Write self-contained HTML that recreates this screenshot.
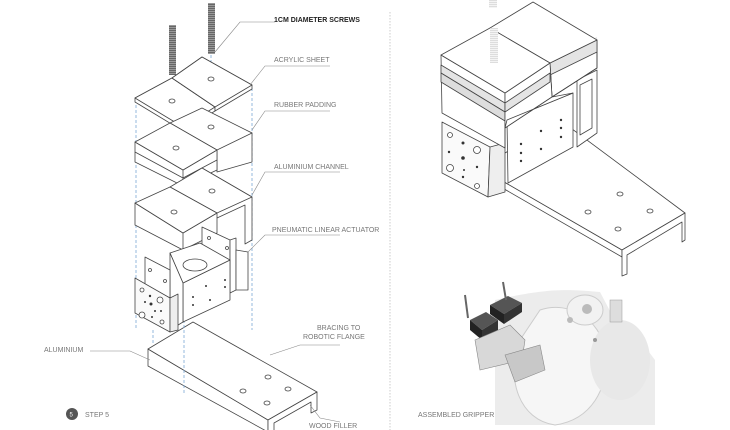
<!DOCTYPE html>
<html><head><meta charset="utf-8"><style>
body{margin:0;background:#fff;width:730px;height:430px;overflow:hidden}
svg{display:block}
text{font-family:"Liberation Sans",sans-serif;font-size:7px;fill:#777}
</style></head><body>
<svg width="730" height="430" viewBox="0 0 730 430" xmlns="http://www.w3.org/2000/svg">
<defs>
<pattern id="thr" width="4" height="2" patternUnits="userSpaceOnUse"><rect width="4" height="2" fill="#666"/><rect y="1" width="4" height="1" fill="#999"/></pattern>
<pattern id="thr2" width="4" height="2" patternUnits="userSpaceOnUse"><rect width="4" height="2" fill="#ddd"/><rect y="1" width="4" height="1" fill="#f4f4f4"/></pattern>
</defs>
<g stroke="#444" stroke-width="0.8" fill="#fff" stroke-linejoin="round">
<!-- left base plate (drawn first) -->
<polygon points="148,349 148,366 268,432 268,420"/>
<polygon points="148,349 193,322 317,392 268,420"/>
<polygon points="268,420 317,392 317,410 311,413 311,402 274,423 274,432 268,432"/>
<g fill="#fff"><ellipse cx="268" cy="377" rx="3" ry="2"/><ellipse cx="243" cy="391" rx="3" ry="2"/><ellipse cx="288" cy="389" rx="3" ry="2"/><ellipse cx="267" cy="403" rx="3" ry="2"/></g>
<!-- dashed guides -->
<g stroke="#7aa7d6" stroke-dasharray="3,2" fill="none">
<line x1="136" y1="100" x2="136" y2="330"/><line x1="184" y1="130" x2="184" y2="395"/>
<line x1="252" y1="88" x2="252" y2="330"/><line x1="172" y1="80" x2="172" y2="108"/><line x1="211" y1="55" x2="211" y2="85"/>
<line x1="153" y1="330" x2="153" y2="345"/>
</g>
<!-- screws -->
<rect x="169" y="25" width="7" height="50" fill="url(#thr)" stroke="none"/>
<rect x="208" y="3" width="7" height="51" fill="url(#thr)" stroke="none"/>
<!-- acrylic sheets -->
<polygon points="135,98 172,78 215,107 215,111 183,131 135,102"/>
<polygon points="135,98 172,78 215,107 183,127"/>
<polygon points="172,78 202,57 252,85 252,89 215,111 215,107"/>
<polygon points="172,78 202,57 252,85 215,107"/>
<ellipse cx="172" cy="101" rx="3" ry="2"/><ellipse cx="211" cy="79" rx="3" ry="2"/>
<!-- rubber padding -->
<polygon points="202,110 252,133 252,162 217,172 217,150"/>
<polygon points="170,123 202,108 252,133 217,150"/>
<polygon points="135,142 135,162 183,186 217,170 217,150 183,170"/>
<polygon points="135,142 170,123 217,150 183,170"/>
<line x1="135" y1="152" x2="183" y2="178"/><line x1="183" y1="178" x2="217" y2="160"/><line x1="183" y1="170" x2="183" y2="186"/>
<ellipse cx="176" cy="148" rx="3" ry="2"/><ellipse cx="211" cy="127" rx="3" ry="2"/>
<!-- aluminium channel -->
<polygon points="202,168 252,197 252,240 245,244 245,205 217,218"/>
<polygon points="170,187 202,168 252,197 217,213"/>
<polygon points="135,203 135,225 183,250 217,233 217,213 183,233"/>
<polygon points="135,203 170,187 217,213 183,233"/>
<line x1="183" y1="233" x2="183" y2="250"/>
<ellipse cx="174" cy="212" rx="3" ry="2"/><ellipse cx="212" cy="191" rx="3" ry="2"/>
<!-- actuator back plate -->
<polygon points="202,227 230,240 230,293 202,280"/>
<polygon points="230,240 236,238 236,290 230,293"/>
<polygon points="236,250 248,252 248,290 236,290"/>
<circle cx="209" cy="238" r="1.5"/><circle cx="227" cy="248" r="1.5"/>
<!-- body -->
<polygon points="183,283 230,260 230,300 183,322"/>
<polygon points="170,253 200,243 230,260 183,283"/>
<ellipse cx="195" cy="265" rx="12" ry="6"/>
<polygon points="170,253 183,283 183,322 170,330"/>
<g fill="#333" stroke="none"><circle cx="206" cy="286" r="1"/><circle cx="225" cy="280" r="1"/><circle cx="225" cy="287" r="1"/><circle cx="193" cy="297" r="1"/><circle cx="193" cy="305" r="1"/><circle cx="210" cy="300" r="1"/></g>
<!-- front plate -->
<polygon points="145,257 170,270 170,298 145,285"/>
<circle cx="150" cy="270" r="1.5"/><circle cx="165" cy="281" r="1.5"/>
<polygon points="135,278 170,298 170,332 135,313" fill="#fafafa"/>
<polygon points="170,298 178,294 178,330 170,332" fill="#eee"/>
<g fill="#fff"><circle cx="142" cy="290" r="2"/><circle cx="160" cy="300" r="3"/><circle cx="142" cy="315" r="3"/><circle cx="162" cy="322" r="2"/></g>
<g fill="#333" stroke="none"><circle cx="150" cy="296" r="1.2"/><circle cx="145" cy="302" r="1"/><circle cx="151" cy="304" r="1.5"/><circle cx="155" cy="311" r="1"/><circle cx="152" cy="317" r="1"/><circle cx="161" cy="311" r="1"/></g>
</g>
<!-- leader lines -->
<g stroke="#888" stroke-width="0.6" fill="none">
<polyline points="215,52 240,22 275,22"/><polyline points="250,85 265,66 330,66"/>
<polyline points="252,130 265,111 330,111"/><polyline points="252,195 265,172 340,172"/>
<polyline points="248,252 265,235 340,235"/><polyline points="270,355 300,345 340,345"/>
<polyline points="90,351 130,351 150,360"/><polyline points="310,405 320,418 340,422"/>
</g>
<text x="274" y="22" style="fill:#222;font-weight:bold">1CM DIAMETER SCREWS</text>
<text x="274" y="62">ACRYLIC SHEET</text>
<text x="274" y="107">RUBBER PADDING</text>
<text x="274" y="169">ALUMINIUM CHANNEL</text>
<text x="272" y="232">PNEUMATIC LINEAR ACTUATOR</text>
<text x="317" y="330">BRACING TO</text>
<text x="303" y="339">ROBOTIC FLANGE</text>
<text x="44" y="352">ALUMINIUM</text>
<text x="309" y="428">WOOD FILLER</text>
<circle cx="72" cy="414" r="6" fill="#555"/>
<text x="69.5" y="416.5" style="fill:#fff;font-size:6px">5</text>
<text x="85" y="417">STEP 5</text>
<line x1="390" y1="12" x2="390" y2="430" stroke="#aaa" stroke-width="0.6" stroke-dasharray="1.5,1.5"/>
<!-- right assembled drawing -->
<g stroke="#444" stroke-width="0.8" fill="#fff" stroke-linejoin="round">
<!-- base plate -->
<polygon points="480,168 480,175 622,257 622,250"/>
<polygon points="480,168 560,120 685,213 622,250"/>
<polygon points="622,250 685,213 685,240 682,242 682,222 627,255 627,274 622,276"/>
<g fill="#fff"><ellipse cx="620" cy="194" rx="3" ry="2"/><ellipse cx="588" cy="212" rx="3" ry="2"/><ellipse cx="650" cy="211" rx="3" ry="2"/><ellipse cx="618" cy="229" rx="3" ry="2"/></g>
<!-- back plate -->
<polygon points="577,80 597,70 597,133 577,147"/>
<polygon points="580,85 592,79 592,128 580,135"/>
<!-- actuator face -->
<polygon points="507,120 573,93 573,147 508,183"/>
<g fill="#333" stroke="none"><circle cx="541" cy="131" r="1.2"/><circle cx="561" cy="120" r="1.2"/><circle cx="561" cy="128" r="1.2"/><circle cx="561" cy="137" r="1.2"/><circle cx="521" cy="144" r="1.2"/><circle cx="521" cy="153" r="1.2"/><circle cx="521" cy="161" r="1.2"/><circle cx="541" cy="149" r="1.2"/></g>
<!-- front plate -->
<polygon points="442,122 490,147 488,197 442,173" fill="#fafafa"/>
<polygon points="490,147 505,143 505,192 488,197" fill="#eee"/>
<g fill="#fff"><circle cx="450" cy="135" r="2.5"/><circle cx="477" cy="150" r="3.5"/><circle cx="450" cy="168" r="3.5"/><circle cx="477" cy="186" r="2.5"/></g>
<g fill="#333" stroke="none"><circle cx="463" cy="143" r="1.5"/><circle cx="449" cy="152" r="1.2"/><circle cx="463" cy="158" r="1.8"/><circle cx="477" cy="167" r="1.2"/><circle cx="464" cy="170" r="1"/><circle cx="463" cy="177" r="1.2"/></g>
<!-- right block -->
<polygon points="550,63 597,40 597,68 552,97"/>
<polygon points="550,60 597,37 597,52 550,75" fill="#e4e4e4" stroke="none"/>
<polygon points="550,63 597,40 597,68 552,97" fill="none"/>
<line x1="550" y1="75" x2="597" y2="52"/>
<polygon points="490,28 533,2 597,40 550,63"/>
<!-- left block -->
<polygon points="441,55 505,93 505,148 442,113"/>
<polygon points="441,65 505,103 505,112 441,73" fill="#e4e4e4"/>
<polygon points="441,73 505,112 505,121 441,82" fill="#ddd"/>
<polygon points="505,93 550,63 552,97 505,128"/>
<polygon points="505,103 550,73 550,82 505,112" fill="#e4e4e4"/>
<polygon points="505,128 552,97 573,93 507,120" fill="#fff"/>
<line x1="505" y1="128" x2="505" y2="148"/>
<polygon points="441,55 490,28 550,63 505,93"/>
<rect x="490" y="28" width="8" height="35" fill="url(#thr2)" stroke="none"/>
<rect x="489" y="0" width="8" height="8" fill="url(#thr2)" stroke="none"/>
</g>
<!-- photo -->
<g>
<path d="M495,300 C540,290 560,288 600,292 L620,330 L640,340 L655,360 L655,425 L495,425 Z" fill="#ececec"/>
<path d="M540,310 C570,300 600,320 605,350 C610,390 590,420 555,425 C520,420 505,380 520,340 Z" fill="#f6f6f6" stroke="#ccc"/>
<ellipse cx="585" cy="310" rx="18" ry="15" fill="#f2f2f2" stroke="#ccc"/>
<ellipse cx="620" cy="360" rx="30" ry="40" fill="#e8e8e8"/>
<polygon points="470,320 486,312 498,320 482,330" fill="#555"/>
<polygon points="470,320 482,330 482,340 470,330" fill="#222"/>
<polygon points="482,330 498,320 498,330 482,340" fill="#333"/>
<polygon points="490,305 508,296 522,303 504,314" fill="#555"/>
<polygon points="490,305 504,314 504,324 490,314" fill="#222"/>
<polygon points="504,314 522,303 522,312 504,324" fill="#333"/>
<line x1="465" y1="295" x2="468" y2="318" stroke="#666" stroke-width="2"/>
<line x1="503" y1="282" x2="506" y2="300" stroke="#666" stroke-width="2"/>
<polygon points="475,340 510,325 525,340 522,360 480,370" fill="#d8d8d8" stroke="#888" stroke-width="0.6"/>
<polygon points="505,355 540,345 545,370 515,382" fill="#c8c8c8" stroke="#888" stroke-width="0.6"/>
<circle cx="587" cy="309" r="5" fill="#bbb"/>
<circle cx="570" cy="320" r="3" fill="#bbb"/><circle cx="595" cy="340" r="2" fill="#999"/>
<rect x="610" y="300" width="12" height="22" fill="#ddd" stroke="#999" stroke-width="0.5"/>
</g>
<text x="418" y="417">ASSEMBLED GRIPPER</text>
</svg>
</body></html>
